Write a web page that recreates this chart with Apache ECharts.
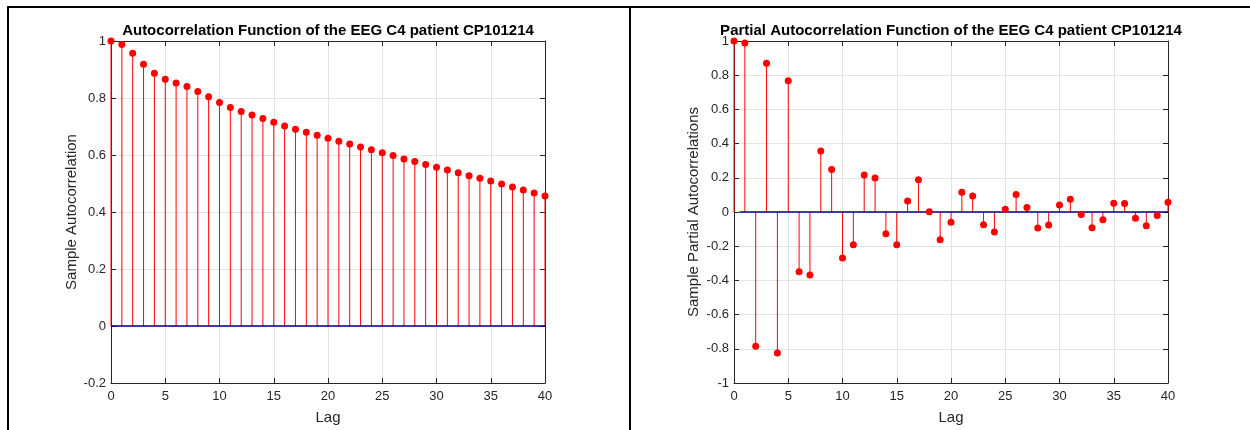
<!DOCTYPE html>
<html>
<head>
<meta charset="utf-8">
<script src="https://cdn.jsdelivr.net/npm/echarts@6/dist/echarts.min.js"></script>
<style>
html,body{margin:0;padding:0;background:#fff;}
#c{width:1250px;height:430px;}
</style>
</head>
<body>
<div id="c"></div>
<script>
const lags = Array.from({length: 41}, (_, i) => i);
const acfValues = [1.000, 0.988, 0.957, 0.918, 0.887, 0.866, 0.853, 0.840, 0.823, 0.804,
  0.784, 0.767, 0.753, 0.740, 0.728, 0.715, 0.702, 0.690, 0.680, 0.669,
  0.659, 0.648, 0.639, 0.628, 0.618, 0.608, 0.598, 0.586, 0.577, 0.567,
  0.557, 0.547, 0.538, 0.527, 0.518, 0.509, 0.498, 0.488, 0.477, 0.467, 0.456];
const pacfValues = [1.000, 0.988, -0.785, 0.870, -0.825, 0.768, -0.349, -0.368, 0.357, 0.248,
  -0.269, -0.191, 0.216, 0.199, -0.127, -0.191, 0.064, 0.189, 0.002, -0.163,
  -0.060, 0.115, 0.094, -0.074, -0.117, 0.016, 0.103, 0.027, -0.094, -0.076,
  0.041, 0.074, -0.014, -0.092, -0.045, 0.051, 0.049, -0.037, -0.080, -0.021, 0.057];
const xTicks = {min: 0, max: 40, interval: 5};
const acfY = {min: -0.2, max: 1, interval: 0.2};
const pacfY = {min: -1, max: 1, interval: 0.2};
const titles = ['Autocorrelation Function of the EEG C4 patient CP101214',
  'Partial Autocorrelation Function of the EEG C4 patient CP101214'];
const yNames = ['Sample Autocorrelation', 'Sample Partial Autocorrelations'];
const xName = 'Lag';

const FONT = '"Liberation Sans", Arial, Helvetica, sans-serif';
const TXT = '#262626';
const fmt = v => String(+(+v).toFixed(2));

function xAxes(gi) {
  return [
    {gridIndex: gi, type: 'value', min: xTicks.min, max: xTicks.max, interval: xTicks.interval,
      name: xName, nameLocation: 'middle', nameGap: 27,
      nameTextStyle: {fontFamily: FONT, fontSize: 15, color: TXT},
      axisLine: {show: true, onZero: false, lineStyle: {color: TXT, width: 1}},
      axisTick: {show: true, inside: true, length: 5, lineStyle: {color: TXT}},
      axisLabel: {fontFamily: FONT, fontSize: 13, color: TXT, margin: 7, formatter: fmt},
      splitLine: {show: true, lineStyle: {color: '#e3e3e3', width: 1}}},
    {gridIndex: gi, type: 'value', position: 'top', min: xTicks.min, max: xTicks.max, interval: xTicks.interval,
      axisLine: {show: true, onZero: false, lineStyle: {color: TXT, width: 1}},
      axisTick: {show: true, inside: true, length: 5, lineStyle: {color: TXT}},
      axisLabel: {show: false}, splitLine: {show: false}}
  ];
}
function yAxes(gi, yr, nm, gap) {
  return [
    {gridIndex: gi, type: 'value', min: yr.min, max: yr.max, interval: yr.interval,
      name: nm, nameLocation: 'middle', nameGap: gap, nameRotate: 90,
      nameTextStyle: {fontFamily: FONT, fontSize: 15, color: TXT},
      axisLine: {show: true, onZero: false, lineStyle: {color: TXT, width: 1}},
      axisTick: {show: true, inside: true, length: 5, lineStyle: {color: TXT}},
      axisLabel: {fontFamily: FONT, fontSize: 13, color: TXT, margin: 5, formatter: fmt},
      splitLine: {show: true, lineStyle: {color: '#e3e3e3', width: 1}}},
    {gridIndex: gi, type: 'value', position: 'right', min: yr.min, max: yr.max, interval: yr.interval,
      axisLine: {show: true, onZero: false, lineStyle: {color: TXT, width: 1}},
      axisTick: {show: true, inside: true, length: 5, lineStyle: {color: TXT}},
      axisLabel: {show: false}, splitLine: {show: false}}
  ];
}

function stemSeries(xi, yi, vals) {
  return {
    type: 'custom', xAxisIndex: xi, yAxisIndex: yi, z: 3,
    data: lags.map((l, i) => [l, vals[i]]),
    renderItem: function (params, api) {
      const p0 = api.coord([api.value(0), 0]);
      const p1 = api.coord([api.value(0), api.value(1)]);
      return {type: 'line', shape: {x1: p0[0], y1: p0[1], x2: p1[0], y2: p1[1]},
        style: {stroke: '#ff0000', lineWidth: 1}};
    }
  };
}
function markerSeries(xi, yi, vals) {
  return {type: 'scatter', xAxisIndex: xi, yAxisIndex: yi, z: 5,
    symbol: 'circle', symbolSize: 7, itemStyle: {color: '#ff0000', opacity: 1},
    data: lags.map((l, i) => [l, vals[i]])};
}
function baseLine(xi, yi, x0) {
  return {type: 'line', xAxisIndex: xi, yAxisIndex: yi, z: 4, symbol: 'none',
    lineStyle: {color: '#000080', width: 1.5}, data: [[x0, 0], [xTicks.max, 0]], silent: true};
}

const chart = echarts.init(document.getElementById('c'), null, {renderer: 'canvas'});
chart.setOption({
  backgroundColor: '#ffffff',
  animation: false,
  title: [
    {text: titles[0], left: 323, top: 18, textAlign: 'center',
      textStyle: {fontFamily: FONT, fontSize: 15, fontWeight: 'bold', color: '#000'}},
    {text: titles[1], left: 946, top: 18, textAlign: 'center',
      textStyle: {fontFamily: FONT, fontSize: 15, fontWeight: 'bold', color: '#000'}}
  ],
  grid: [
    {left: 111, top: 41, width: 434, height: 342},
    {left: 734, top: 41, width: 434, height: 342}
  ],
  xAxis: [...xAxes(0), ...xAxes(1)],
  yAxis: [...yAxes(0, acfY, yNames[0], 32), ...yAxes(1, pacfY, yNames[1], 33)],
  series: [
    baseLine(0, 0, 0), stemSeries(0, 0, acfValues), markerSeries(0, 0, acfValues),
    baseLine(2, 2, 0.5), stemSeries(2, 2, pacfValues), markerSeries(2, 2, pacfValues)
  ],
  graphic: [
    {type: 'line', shape: {x1: 8, y1: 7, x2: 1250, y2: 7}, style: {stroke: '#000', lineWidth: 2}},
    {type: 'line', shape: {x1: 8, y1: 6, x2: 8, y2: 430}, style: {stroke: '#000', lineWidth: 2}},
    {type: 'line', shape: {x1: 630, y1: 6, x2: 630, y2: 430}, style: {stroke: '#000', lineWidth: 2}}
  ]
});
</script>
</body>
</html>
